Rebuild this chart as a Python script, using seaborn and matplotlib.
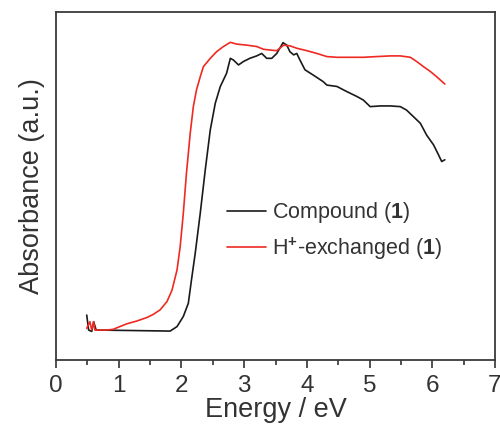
import matplotlib
matplotlib.use("Agg")
import matplotlib.pyplot as plt
from matplotlib.ticker import MultipleLocator
import seaborn as sns
import pandas as pd
import numpy as np

# Compound (1)
energy_cmp = [0.49, 0.52, 0.57, 0.60, 0.64, 1.82, 1.93, 2.03, 2.11, 2.16,
              2.22, 2.30, 2.38, 2.46, 2.54, 2.62, 2.72, 2.78, 2.83, 2.91,
              2.99, 3.09, 3.20, 3.28, 3.36, 3.44, 3.52, 3.62, 3.68, 3.73,
              3.79, 3.84, 3.89, 3.97, 4.10, 4.26, 4.32, 4.48, 4.64, 4.80,
              4.90, 5.01, 5.17, 5.33, 5.49, 5.59, 5.70, 5.81, 5.91, 6.02,
              6.10, 6.15, 6.20]
absorb_cmp = [0.129, 0.086, 0.082, 0.110, 0.086, 0.083, 0.096, 0.125, 0.163, 0.230,
              0.307, 0.422, 0.547, 0.662, 0.739, 0.787, 0.825, 0.868, 0.863, 0.849,
              0.859, 0.868, 0.875, 0.882, 0.868, 0.868, 0.882, 0.913, 0.906, 0.887,
              0.878, 0.882, 0.863, 0.835, 0.820, 0.801, 0.791, 0.787, 0.772, 0.758,
              0.748, 0.729, 0.731, 0.731, 0.729, 0.719, 0.700, 0.681, 0.647, 0.619,
              0.590, 0.571, 0.576]

# H+-exchanged (1)
energy_hx = [0.49, 0.54, 0.57, 0.60, 0.62, 0.68, 0.81, 0.91, 1.02, 1.13,
             1.29, 1.45, 1.55, 1.66, 1.77, 1.85, 1.93, 1.98, 2.03, 2.08,
             2.14, 2.19, 2.24, 2.30, 2.35, 2.46, 2.56, 2.67, 2.78, 2.88,
             3.04, 3.20, 3.31, 3.41, 3.52, 3.63, 3.73, 3.84, 4.00, 4.16,
             4.32, 4.48, 4.69, 4.90, 5.11, 5.33, 5.49, 5.65, 5.75, 5.86,
             5.97, 6.07, 6.20]
absorb_hx = [0.091, 0.110, 0.086, 0.110, 0.086, 0.086, 0.086, 0.088, 0.096, 0.104,
             0.112, 0.122, 0.131, 0.144, 0.168, 0.201, 0.259, 0.326, 0.422, 0.537,
             0.652, 0.729, 0.777, 0.815, 0.844, 0.868, 0.887, 0.902, 0.914, 0.909,
             0.906, 0.902, 0.894, 0.892, 0.890, 0.906, 0.904, 0.897, 0.890, 0.882,
             0.873, 0.871, 0.871, 0.871, 0.873, 0.875, 0.875, 0.871, 0.859, 0.844,
             0.830, 0.815, 0.794]

sns.set_theme(style="ticks")
plt.rcParams['font.family'] = ['Liberation Sans', 'DejaVu Sans']
plt.rcParams['mathtext.fontset'] = 'custom'
plt.rcParams['mathtext.rm'] = 'Liberation Sans'
plt.rcParams['mathtext.bf'] = 'Liberation Sans:bold'

fig = plt.figure(figsize=(5, 4.3), dpi=100)
ax = fig.add_axes([0.112, 0.163, 0.878, 0.808])

df_cmp = pd.DataFrame({"E": energy_cmp, "A": absorb_cmp})
df_hx = pd.DataFrame({"E": energy_hx, "A": absorb_hx})

sns.lineplot(data=df_cmp, x="E", y="A", sort=False, color="#1a1a1a",
             linewidth=1.2, label=r"Compound ($\mathbf{1}$)", ax=ax)
sns.lineplot(data=df_hx, x="E", y="A", sort=False, color="#ee2a22",
             linewidth=1.2, label=r"H$^{\mathbf{+}}$-exchanged ($\mathbf{1}$)", ax=ax)

ax.set_xlim(0, 7)
ax.set_ylim(0, 1)
ax.xaxis.set_major_locator(MultipleLocator(1))
ax.xaxis.set_minor_locator(MultipleLocator(0.5))
ax.set_yticks([])
ax.tick_params(axis='x', which='major', direction='out', length=6, width=1.2,
               labelsize=17.5, colors='#333333', labelcolor='#333333', pad=5)
ax.tick_params(axis='x', which='minor', direction='out', length=3.5, width=1.2,
               colors='#333333')
for sp in ax.spines.values():
    sp.set_visible(True)
    sp.set_linewidth(1.3)
    sp.set_color('#3a3a3a')

ax.set_xlabel("Energy / eV", fontsize=19.5, color='#333333', labelpad=0)
ax.set_ylabel("Absorbance (a.u.)", fontsize=19.5, color='#333333', labelpad=8)

ax.legend(loc='upper left', bbox_to_anchor=(0.345, 0.515), frameon=False,
          fontsize=15.5, handlelength=1.8, handletextpad=0.3,
          labelspacing=0.45, labelcolor='#333333')

fig.savefig("out.png", dpi=100)
